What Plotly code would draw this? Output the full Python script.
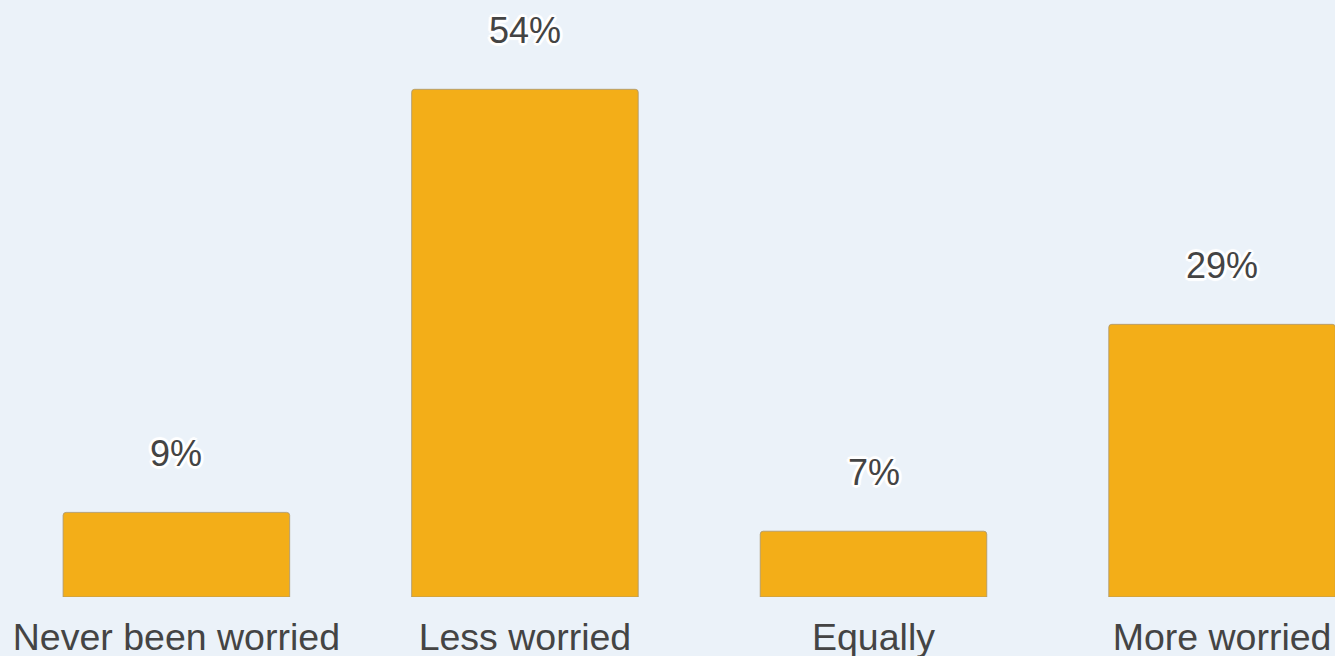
import plotly.graph_objects as go

categories = ["Never been worried", "Less worried", "Equally", "More worried"]
values = [9, 54, 7, 29]
labels = ["9%", "54%", "7%", "29%"]

BG = "#EBF2F9"
BAR = "#F3AE18"
TXT = "#444444"
FONT = "Liberation Sans, Arial, sans-serif"

fig = go.Figure()
fig.add_trace(go.Bar(
    x=list(range(len(categories))),
    y=values,
    width=0.65,
    marker=dict(color=BAR, line=dict(color="rgba(170,150,110,0.8)", width=1)),
    hoverinfo="skip",
))

outline = ("2px 2px 1px #fff, -2px -2px 1px #fff, 2px -2px 1px #fff, -2px 2px 1px #fff, "
           "3px 0 1px #fff, -3px 0 1px #fff, 0 3px 1px #fff, 0 -3px 1px #fff")
for i, (v, t) in enumerate(zip(values, labels)):
    fig.add_annotation(
        x=i, y=v, text=t, showarrow=False, xref="x", yref="y",
        yanchor="middle", yshift=59,
        font=dict(size=36, color=TXT, family=FONT, shadow=outline),
    )

fig.update_layout(
    width=1335, height=656,
    paper_bgcolor=BG, plot_bgcolor=BG,
    margin=dict(l=0, r=0, t=0, b=59),
    barcornerradius=3,
    showlegend=False,
    xaxis=dict(
        range=[-0.506, 3.324],
        tickmode="array",
        tickvals=list(range(len(categories))),
        ticktext=categories,
        tickfont=dict(size=37.5, color=TXT, family=FONT),
        ticklabelstandoff=14,
        showgrid=False, zeroline=False, showline=False, ticks="",
        automargin=False,
    ),
    yaxis=dict(
        range=[0, 63.5],
        visible=False,
        showgrid=False, zeroline=False,
    ),
)

fig.write_html("out.html")
